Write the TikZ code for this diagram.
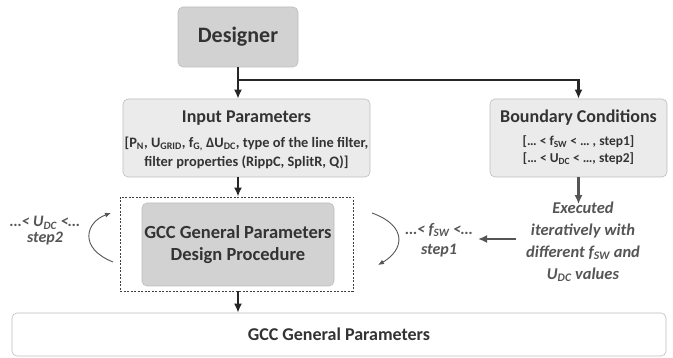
\documentclass[tikz,border=0pt]{standalone}
\usepackage{fontspec}
\setmainfont{Carlito}
\usetikzlibrary{arrows.meta}
\definecolor{txt}{HTML}{333333}
\definecolor{itx}{HTML}{555555}
\definecolor{dfill}{HTML}{D2D2D2}
\definecolor{lfill}{HTML}{EBEBEB}
\definecolor{bord}{HTML}{BDBDBD}
\begin{document}
\begin{tikzpicture}[x=1pt,y=-1pt,
  box/.style={draw=bord,line width=0.6pt,rounded corners=5pt,inner sep=0pt,text=txt,font=\bfseries,align=center},
  arr/.style={-{Latex[length=9pt,width=8pt]},line width=2.2pt,draw=black!85},
  garr/.style={-{Latex[length=9pt,width=8pt]},line width=2.2pt,draw=itx},
  carr/.style={-{Latex[length=6pt,width=5pt]},line width=0.9pt,draw=itx},
  itext/.style={text=itx,font=\bfseries\itshape,align=center,inner sep=0pt}]
\useasboundingbox (0,0) rectangle (673,358);
% boxes
\node[box,fill=dfill,minimum width=120pt,minimum height=60pt,font=\bfseries\fontsize{22}{26}\selectfont] (des) at (238,37) {Designer};
\node[box,fill=lfill,minimum width=247pt,minimum height=78pt] (inp) at (246.5,138) {};
\node[text=txt,font=\bfseries\fontsize{18}{20}\selectfont,inner sep=0pt] (inpt) at (246.5,118) {Input Parameters};
\node[text=txt,font=\bfseries\fontsize{14.4}{19}\selectfont,align=center,inner sep=0pt] (inps) at (246.5,152.5) {{[}P\textsubscript{N}, U\textsubscript{GRID}, f\textsubscript{G,} ΔU\textsubscript{DC}, type of the line filter,\\filter properties (RippC, SplitR, Q){]}};
\node[box,fill=lfill,minimum width=177pt,minimum height=78pt] (bnd) at (578.5,138) {};
\node[text=txt,font=\bfseries\fontsize{18}{20}\selectfont,inner sep=0pt] (bndt) at (578.5,118) {Boundary Conditions};
\node[text=txt,font=\bfseries\fontsize{13.5}{17}\selectfont,align=center,inner sep=0pt] (bnds) at (578.5,150.5) {{[}… < f\textsubscript{SW} < … , step1{]}\\{[}… < U\textsubscript{DC} < …, step2{]}};
\node[draw=black!75,dash pattern=on 2pt off 1.5pt,line width=0.9pt,minimum width=233pt,minimum height=94pt,inner sep=0pt] (dash) at (236.5,244) {};
\node[box,fill=dfill,minimum width=192pt,minimum height=83pt,font=\bfseries\fontsize{18.5}{22}\selectfont] (gcc) at (238,244.5) {GCC General Parameters\\Design Procedure};
\node[box,fill=white,minimum width=654pt,minimum height=43pt,font=\bfseries\fontsize{18}{20}\selectfont] (out) at (339,334.5) {GCC General Parameters};
% labels
\node[itext,font=\bfseries\itshape\fontsize{16}{16}\selectfont] (lab2) at (45,231) {…< U\textsubscript{DC} <…\\step2};
\node[itext,font=\bfseries\itshape\fontsize{16}{20}\selectfont] (lab1) at (439,240) {…< f\textsubscript{SW} <…\\step1};
\node[itext,font=\bfseries\itshape\fontsize{16.5}{21.7}\selectfont] (exe) at (583,242) {Executed\\iteratively with\\different f\textsubscript{SW} and\\U\textsubscript{DC} values};
% connectors
\coordinate (jn) at (238,80);
\draw[arr] (des.south) -- (des.south |- inp.north);
\draw[arr] (jn) -| (bnd.north);
\draw[arr] (des.south |- inp.south) -- (des.south |- dash.north);
\draw[arr] (des.south |- dash.south) -- (des.south |- out.north);
\draw[garr] (bnd.south) -- ([yshift=-2pt]exe.north -| bnd.south);
\coordinate (e1) at (516,239);
\coordinate (e2) at (478,239);
\draw[garr] (e1) -- (e2);
\coordinate (l1) at (113,262);
\coordinate (l2) at (111,213);
\draw[carr] (l1) .. controls (78,248) and (86,222) .. (l2);
\coordinate (r1) at (372,213);
\coordinate (r2) at (378,265);
\draw[carr] (r1) .. controls (408,226) and (404,250) .. (r2);
\end{tikzpicture}
\end{document}
